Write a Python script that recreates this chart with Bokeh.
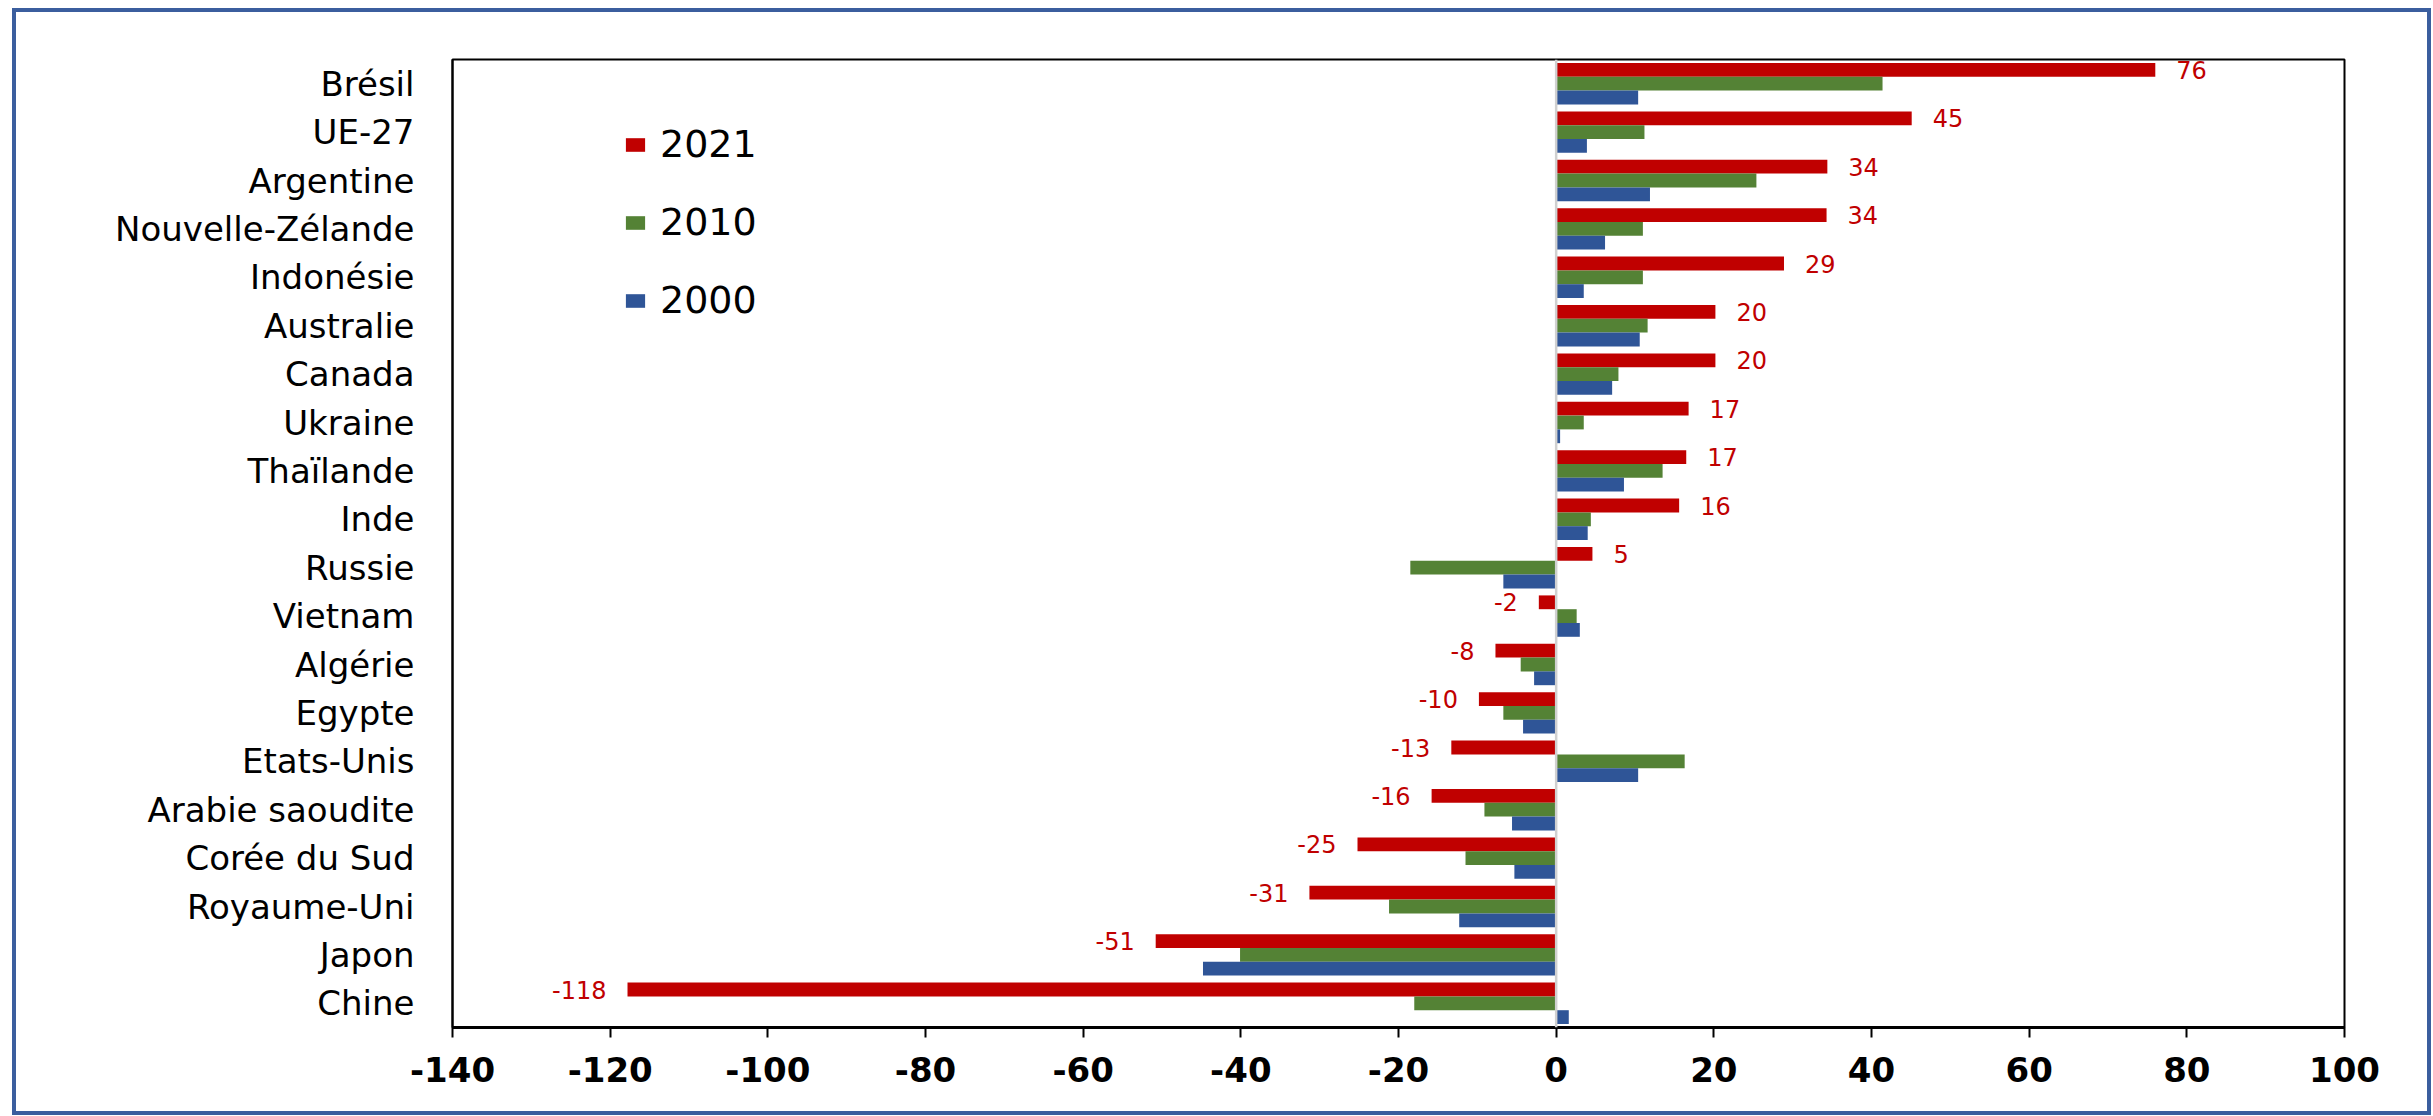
from bokeh.plotting import figure
from bokeh.models import (FactorRange, Range1d, FixedTicker, Span, Legend, LegendItem,
                          ColumnDataSource)
from bokeh.transform import dodge
from bokeh.core.properties import value
from bokeh.embed import file_html
from bokeh.resources import INLINE

countries = ["Brésil", "UE-27", "Argentine", "Nouvelle-Zélande", "Indonésie", "Australie",
             "Canada", "Ukraine", "Thaïlande", "Inde", "Russie", "Vietnam", "Algérie",
             "Egypte", "Etats-Unis", "Arabie saoudite", "Corée du Sud", "Royaume-Uni",
             "Japon", "Chine"]
v2021 = [76.0, 45.1, 34.4, 34.3, 28.9, 20.2, 20.2, 16.8, 16.5, 15.6, 4.6, -2.2, -7.7,
         -9.8, -13.3, -15.8, -25.2, -31.3, -50.8, -117.8]
v2010 = [41.4, 11.2, 25.4, 11.0, 11.0, 11.6, 7.9, 3.5, 13.5, 4.4, -18.5, 2.6, -4.5,
         -6.7, 16.3, -9.1, -11.5, -21.2, -40.1, -18.0]
v2000 = [10.4, 3.9, 11.9, 6.2, 3.5, 10.6, 7.1, 0.5, 8.6, 4.0, -6.7, 3.0, -2.8,
         -4.2, 10.4, -5.6, -5.3, -12.3, -44.8, 1.6]
labels_2021 = ["76", "45", "34", "34", "29", "20", "20", "17", "17", "16", "5", "-2", "-8",
               "-10", "-13", "-16", "-25", "-31", "-51", "-118"]
series_names = ["2021", "2010", "2000"]
x_ticks = [-140, -120, -100, -80, -60, -40, -20, 0, 20, 40, 60, 80, 100]

RED, GREEN, BLUE = "#C00000", "#548235", "#2F5597"
FONT = "DejaVu Sans"

src = ColumnDataSource(dict(country=countries, v2021=v2021, v2010=v2010, v2000=v2000,
                            lbl=labels_2021))
pos_idx = [i for i, v in enumerate(v2021) if v >= 0]
neg_idx = [i for i, v in enumerate(v2021) if v < 0]
src_pos = ColumnDataSource(dict(country=[countries[i] for i in pos_idx],
                                v=[v2021[i] for i in pos_idx],
                                lbl=[labels_2021[i] for i in pos_idx]))
src_neg = ColumnDataSource(dict(country=[countries[i] for i in neg_idx],
                                v=[v2021[i] for i in neg_idx],
                                lbl=[labels_2021[i] for i in neg_idx]))

# canvas origin at page (16, 12) because of the CSS margin + border below
p = figure(width=2411, height=1099, output_backend="svg", toolbar_location=None,
           y_range=FactorRange(factors=countries[::-1], range_padding=0),
           x_range=Range1d(-140, 100),
           min_border_left=436, min_border_right=91, min_border_top=47, min_border_bottom=92)
p.styles = {"margin-left": "12px", "margin-top": "8px", "box-sizing": "content-box",
            "border": "4px solid #3B5E9E"}

p.xgrid.visible = False
p.ygrid.visible = False
p.outline_line_color = "black"
p.outline_line_width = 2
p.background_fill_color = "white"
p.border_fill_color = "white"

BH = 0.285
r21 = p.hbar(y=dodge("country", BH, range=p.y_range), right="v2021", left=0, height=BH,
             source=src, fill_color=RED, line_color=None)
r10 = p.hbar(y=dodge("country", 0, range=p.y_range), right="v2010", left=0, height=BH,
             source=src, fill_color=GREEN, line_color=None)
r00 = p.hbar(y=dodge("country", -BH, range=p.y_range), right="v2000", left=0, height=BH,
             source=src, fill_color=BLUE, line_color=None)

p.add_layout(Span(location=0, dimension="height", line_color="#d0d0d0", line_width=2.5))

p.text(x="v", y=dodge("country", BH, range=p.y_range), text="lbl", source=src_pos,
       text_align="left", text_baseline="middle", x_offset=21,
       text_font=value(FONT), text_font_size="24px", text_color=RED)
p.text(x="v", y=dodge("country", BH, range=p.y_range), text="lbl", source=src_neg,
       text_align="right", text_baseline="middle", x_offset=-21,
       text_font=value(FONT), text_font_size="24px", text_color=RED)

# axes
xa = p.xaxis[0]
xa.ticker = FixedTicker(ticks=x_ticks)
xa.major_label_overrides = {t: str(t) for t in x_ticks}
xa.minor_tick_line_color = None
xa.major_tick_in = 0
xa.major_tick_out = 10
xa.major_tick_line_width = 2
xa.major_tick_line_color = "black"
xa.axis_line_width = 3
xa.axis_line_color = "black"
xa.major_label_text_font = FONT
xa.major_label_text_font_style = "bold"
xa.major_label_text_font_size = "34px"
xa.major_label_text_color = "black"
xa.major_label_standoff = 19

ya = p.yaxis[0]
ya.major_tick_in = 0
ya.major_tick_out = 0
ya.minor_tick_line_color = None
ya.axis_line_color = "black"
ya.axis_line_width = 2
ya.major_label_text_font = FONT
ya.major_label_text_font_size = "34px"
ya.major_label_text_color = "black"
ya.major_label_standoff = 38

legend = Legend(items=[LegendItem(label=series_names[0], renderers=[r21]),
                       LegendItem(label=series_names[1], renderers=[r10]),
                       LegendItem(label=series_names[2], renderers=[r00])],
                location=(171, 705), orientation="vertical",
                glyph_width=24, glyph_height=17, label_height=40, spacing=34,
                label_standoff=13, padding=0, margin=0,
                label_text_font=FONT, label_text_font_size="38px",
                label_text_color="black",
                border_line_color=None, background_fill_alpha=0)
p.add_layout(legend)

open("out.html", "w").write(file_html(p, INLINE))
